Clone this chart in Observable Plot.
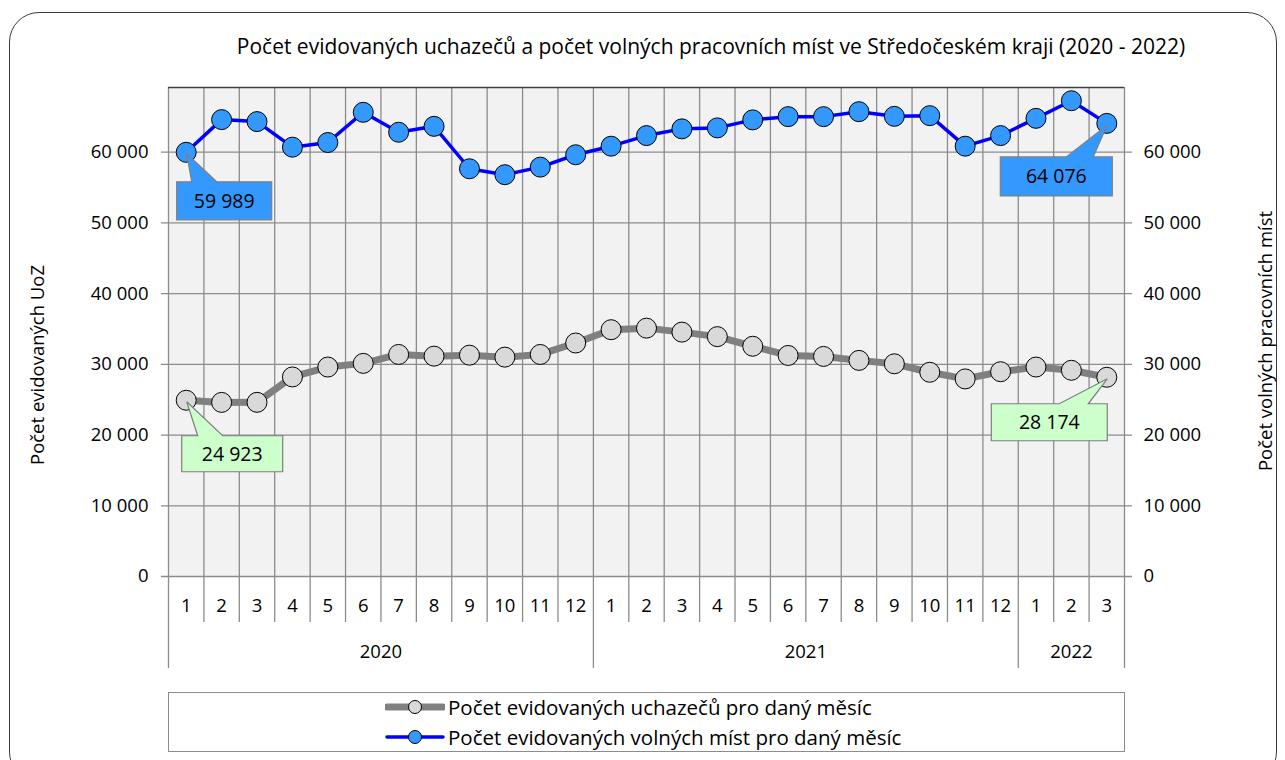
<!DOCTYPE html>
<html>
<head>
<meta charset="utf-8">
<script src="https://cdn.jsdelivr.net/npm/d3@7"></script>
<script src="https://cdn.jsdelivr.net/npm/@observablehq/plot@0.6"></script>
<style>
  html, body { margin: 0; padding: 0; background: #fff; }
  #wrap { position: relative; width: 1285px; height: 760px; overflow: hidden; font-family: "Open Sans", sans-serif; }
  #frame { position: absolute; left: 9px; top: 12px; width: 1268px; height: 770px; border: 1.5px solid #3a3a3a; border-radius: 30px; box-sizing: border-box; }
  #title { position: absolute; top: 32px; left: 711px; transform: translateX(-50%); white-space: nowrap; font-size: 21px; line-height: 28px; color: #000; }
  #chart { position: absolute; left: 0; top: 0; }
  #chart svg text { font-size: 18.5px; }
  #legend { position: absolute; left: 168px; top: 692px; width: 957px; height: 60px; border: 1.5px solid #8c8c8c; box-sizing: border-box; background: #fff; }
  .lrow { position: absolute; left: 216px; height: 26px; display: flex; align-items: center; font-size: 20.5px; white-space: nowrap; }
  .lrow svg { display: block; margin-right: 3px; }
</style>
</head>
<body>
<div id="wrap">
  <div id="frame"></div>
  <div id="chart"></div>
  <div id="title"></div>
  <div id="legend"></div>
</div>
<script>
// ---- data ----
const chartTitle = "Počet evidovaných uchazečů a počet volných pracovních míst ve Středočeském kraji (2020 - 2022)";
const yLeftTitle = "Počet evidovaných UoZ";
const yRightTitle = "Počet volných pracovních míst";
const months = [1,2,3,4,5,6,7,8,9,10,11,12, 1,2,3,4,5,6,7,8,9,10,11,12, 1,2,3];
const yearLabels = ["2020", "2021", "2022"];
const yearMonthCounts = [12, 12, 3];
const uchazeci = [24923, 24620, 24630, 28220, 29620, 30140, 31400, 31160, 31300, 31020, 31400, 33020,
                  34900, 35120, 34560, 33920, 32560, 31260, 31120, 30560, 30080, 28880, 27940, 28960,
                  29620, 29160, 28174];
const mista = [59989, 64610, 64330, 60710, 61370, 65640, 62820, 63660, 57660, 56820, 57890, 59640,
               60850, 62350, 63300, 63440, 64570, 65030, 65030, 65730, 65070, 65170, 60850, 62350,
               64790, 67280, 64076];
const yTicks = [0, 10000, 20000, 30000, 40000, 50000, 60000];
const seriesNames = ["Počet evidovaných uchazečů pro daný měsíc", "Počet evidovaných volných míst pro daný měsíc"];

// ---- derived ----
const rows = months.map((m, i) => ({i, m, u: uchazeci[i], v: mista[i]}));
const yearStarts = yearMonthCounts.map((c, k) => d3.sum(yearMonthCounts.slice(0, k)));
const years = yearLabels.map((y, k) => ({label: y, start: yearStarts[k], end: yearStarts[k] + yearMonthCounts[k]}));
const yearBounds = [0, ...years.map(y => y.end)];
const monthBounds = d3.range(1, months.length).filter(b => !yearBounds.includes(b));
const fmt = d => d3.format(",")(d).replace(/,/g, " ");

const callouts = [
  {i: 0, value: uchazeci[0], fill: "#ccffcc", box: [-4, 36, 97, 72], base: [12, 37]},
  {i: months.length - 1, value: uchazeci[months.length - 1], fill: "#ccffcc", box: [-115, 27, 1, 64], base: [-47, -18]},
  {i: 0, value: mista[0], fill: "#3399ff", box: [-9, 30, 86, 68], base: [6, 31]},
  {i: months.length - 1, value: mista[months.length - 1], fill: "#3399ff", box: [-106, 34, 6, 73], base: [-40, -13]}
];

function calloutMark(list) {
  return (index, scales) => {
    const g = d3.create("svg:g");
    for (const c of list) {
      const px = scales.x(c.i + 0.5), py = scales.y(c.value);
      const [x0, y0, x1, y1] = c.box.map((d, k) => d + (k % 2 ? py : px));
      const [b0, b1] = c.base.map(d => d + px);
      g.append("path")
        .attr("d", `M${x0},${y0}L${b0},${y0}L${px + 1},${py + 2}L${b1},${y0}L${x1},${y0}L${x1},${y1}L${x0},${y1}Z`)
        .attr("fill", c.fill).attr("stroke", "#7f7f7f").attr("stroke-width", 1.2);
      g.append("text")
        .attr("x", (x0 + x1) / 2).attr("y", (y0 + y1) / 2)
        .attr("text-anchor", "middle").attr("dy", "0.35em")
        .style("font-size", "19.5px").attr("fill", "#000")
        .text(fmt(c.value));
    }
    return g.node();
  };
}

const H = 690;
const chart = Plot.plot({
  width: 1285,
  height: H,
  marginTop: 87,
  marginBottom: H - 576,
  marginLeft: 168,
  marginRight: 1285 - 1124,
  style: {background: "transparent", fontFamily: "Open Sans, sans-serif", fontSize: "18.5px", color: "#000"},
  x: {type: "linear", domain: [0, months.length], ticks: rows.map(d => d.i + 0.5), tickFormat: d => months[d - 0.5], tickSize: 0, tickPadding: 22, label: null},
  y: {domain: [0, 69150], ticks: yTicks, tickFormat: fmt, tickSize: 0, tickPadding: 20, label: null},
  marks: [
    Plot.frame({fill: "#f2f2f2", stroke: null}),
    Plot.ruleY(yTicks, {y: d => d, stroke: "#8c8c8c", strokeWidth: 1.3, insetLeft: -7, insetRight: -8}),
    Plot.ruleX(monthBounds, {x: d => d, stroke: "#8c8c8c", strokeWidth: 1.3, insetBottom: -46}),
    Plot.ruleX(yearBounds, {x: d => d, stroke: "#8c8c8c", strokeWidth: 1.3, insetBottom: -92}),
    Plot.ruleY([69150], {y: d => d, stroke: "#404040", strokeWidth: 1.3}),
    Plot.text(yTicks, {y: d => d, text: fmt, frameAnchor: "right", textAnchor: "start", dx: 19}),
    Plot.text(years, {x: d => (d.start + d.end) / 2, text: d => d.label, frameAnchor: "bottom", dy: 81}),
    Plot.text([yLeftTitle], {text: d => d, frameAnchor: "left", textAnchor: "middle", rotate: -90, dx: -130, dy: 33}),
    Plot.text([yRightTitle], {text: d => d, frameAnchor: "right", textAnchor: "middle", rotate: -90, dx: 142, dy: 9}),
    Plot.line(rows, {x: d => d.i + 0.5, y: "u", stroke: "#808080", strokeWidth: 7}),
    Plot.dot(rows, {x: d => d.i + 0.5, y: "u", r: 10, fill: "#d9d9d9", stroke: "#000", strokeWidth: 1}),
    Plot.line(rows, {x: d => d.i + 0.5, y: "v", stroke: "#0000ff", strokeWidth: 3.5}),
    Plot.dot(rows, {x: d => d.i + 0.5, y: "v", r: 10, fill: "#3399ff", stroke: "#000", strokeWidth: 1}),
    calloutMark(callouts)
  ]
});
document.getElementById("chart").appendChild(chart);
document.getElementById("title").textContent = chartTitle;

// legend
const legendStyles = [
  {stroke: "#808080", width: 7, fill: "#d9d9d9"},
  {stroke: "#0000ff", width: 3.5, fill: "#3399ff"}
];
const legend = d3.select("#legend");
seriesNames.forEach((name, k) => {
  const row = legend.append("div").attr("class", "lrow").style("top", (1 + k * 30) + "px");
  const s = row.append("svg").attr("width", 60).attr("height", 20);
  s.append("line").attr("x1", 2).attr("x2", 58).attr("y1", 10).attr("y2", 10)
    .attr("stroke", legendStyles[k].stroke).attr("stroke-width", legendStyles[k].width).attr("stroke-linecap", "round");
  s.append("circle").attr("cx", 30).attr("cy", 10).attr("r", 6.5)
    .attr("fill", legendStyles[k].fill).attr("stroke", "#000").attr("stroke-width", 1);
  row.append("span").text(name);
});
</script>
</body>
</html>
